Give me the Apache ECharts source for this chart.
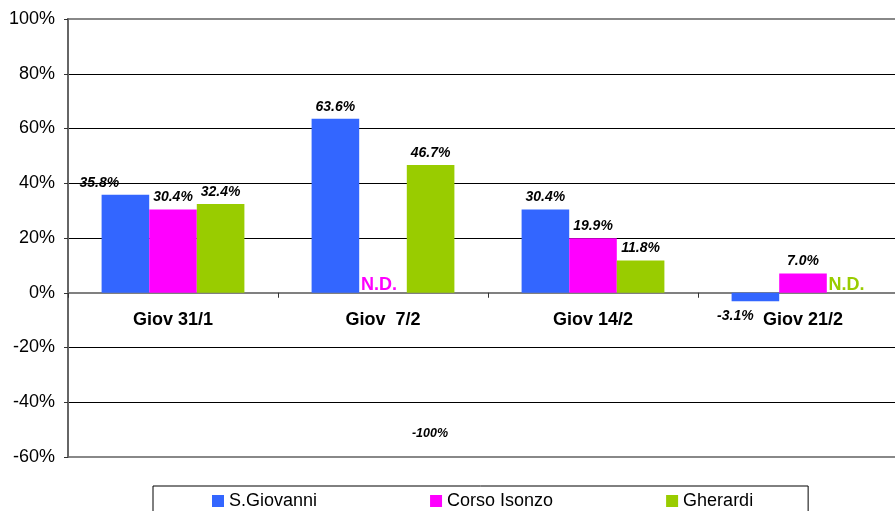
<!DOCTYPE html>
<html>
<head>
<meta charset="utf-8">
<script src="https://cdn.jsdelivr.net/npm/echarts@6/dist/echarts.min.js"></script>
<style>
html,body{margin:0;padding:0;background:#fff;overflow:hidden;width:895px;height:511px;}
#chart{width:908px;height:511px;}
</style>
</head>
<body>
<div id="chart"></div>
<script>
const categories = ['Giov 31/1', 'Giov  7/2', 'Giov 14/2', 'Giov 21/2'];
const seriesNames = ['S.Giovanni', 'Corso Isonzo', 'Gherardi'];
const sGiovanni = [35.8, 63.6, 30.4, -3.1];
const corsoIsonzo = [30.4, null, 19.9, 7.0];
const gherardi = [32.4, 46.7, 11.8, null];
const yTicks = [-60, -40, -20, 0, 20, 40, 60, 80, 100];
const noteText = '-100%';
const noteCategory = 'Giov  7/2';
const noteValue = -51.3;

const colors = ['#3366FF', '#FF00FF', '#99CC00'];
const FONT = '"Liberation Sans", Arial, sans-serif';

// label tweaks (placement only)
const labelOffsets = {
  '0-0': {offset: [-26, 0]},
  '0-3': {position: 'bottom', offset: [-20, 3]}
};

function buildData(values, sIdx) {
  return values.map((v, i) => {
    if (v === null) {
      return {
        value: 0,
        label: {
          show: true, formatter: 'N.D.', position: 'top', distance: 0,
          offset: [-4, 1], color: colors[sIdx], fontSize: 18,
          fontWeight: 'bold', fontStyle: 'normal', fontFamily: FONT
        }
      };
    }
    const extra = labelOffsets[sIdx + '-' + i];
    const item = {value: v};
    if (extra) item.label = Object.assign({}, extra);
    return item;
  });
}

const allValues = [sGiovanni, corsoIsonzo, gherardi];
const chart = echarts.init(document.getElementById('chart'));

const series = allValues.map((vals, s) => ({
  name: seriesNames[s],
  type: 'bar',
  data: buildData(vals, s),
  itemStyle: {color: colors[s]},
  barGap: '0%',
  barCategoryGap: '32%',
  label: {
    show: true, position: 'top', distance: 5,
    formatter: p => p.value.toFixed(1) + '%',
    fontSize: 14, fontWeight: 'bold', fontStyle: 'italic',
    color: '#000', fontFamily: FONT
  }
}));

const gridLineColors = yTicks.map(t => (t === 0 || t === yTicks[0] || t === yTicks[yTicks.length - 1]) ? '#888' : '#000');

chart.setOption({
  animation: false,
  backgroundColor: '#fff',
  textStyle: {fontFamily: FONT},
  grid: {
    left: 68, top: 19, right: 0, bottom: 54,
    show: true, borderColor: '#888', borderWidth: 2, backgroundColor: 'transparent'
  },
  legend: {
    data: seriesNames,
    left: 153, top: 486,
    padding: [6, 55, 12, 59],
    itemWidth: 12, itemHeight: 12, itemGap: 113,
    icon: 'rect',
    borderColor: '#000', borderWidth: 1,
    textStyle: {fontSize: 18, color: '#000', fontFamily: FONT}
  },
  xAxis: {
    type: 'category',
    data: categories,
    position: 'bottom',
    axisLine: {onZero: false, lineStyle: {color: '#808080', width: 2}},
    axisTick: {show: true, alignWithLabel: false, interval: 0, length: 5, lineStyle: {color: '#333'}},
    axisLabel: {
      interval: 0, margin: 18, fontSize: 18, fontWeight: 'bold',
      color: '#000', fontFamily: FONT
    },
    splitLine: {show: false}
  },
  yAxis: {
    type: 'value',
    min: yTicks[0], max: yTicks[yTicks.length - 1], interval: 20,
    axisLine: {show: true, lineStyle: {color: '#666', width: 2}},
    axisTick: {show: true, length: 4, lineStyle: {color: '#333'}},
    axisLabel: {
      formatter: '{value}%', fontSize: 18, color: '#000', margin: 13, fontFamily: FONT
    },
    splitLine: {show: true, lineStyle: {color: gridLineColors, width: 1}}
  },
  series: series
});

// move category axis (line, ticks, labels) onto the zero value
const zeroPx = chart.convertToPixel({yAxisIndex: 0}, 0);
const bottomPx = chart.convertToPixel({yAxisIndex: 0}, yTicks[0]);
chart.setOption({xAxis: {offset: zeroPx - bottomPx}});

const pt = chart.convertToPixel({xAxisIndex: 0, yAxisIndex: 0}, [noteCategory, noteValue]);
chart.setOption({
  graphic: [{
    type: 'text',
    x: pt[0] + 47, y: pt[1],
    style: {
      text: noteText, fontSize: 12.5, fontWeight: 'bold', fontStyle: 'italic',
      fill: '#000', fontFamily: FONT, textAlign: 'center', textVerticalAlign: 'middle'
    }
  }]
});
</script>
</body>
</html>
